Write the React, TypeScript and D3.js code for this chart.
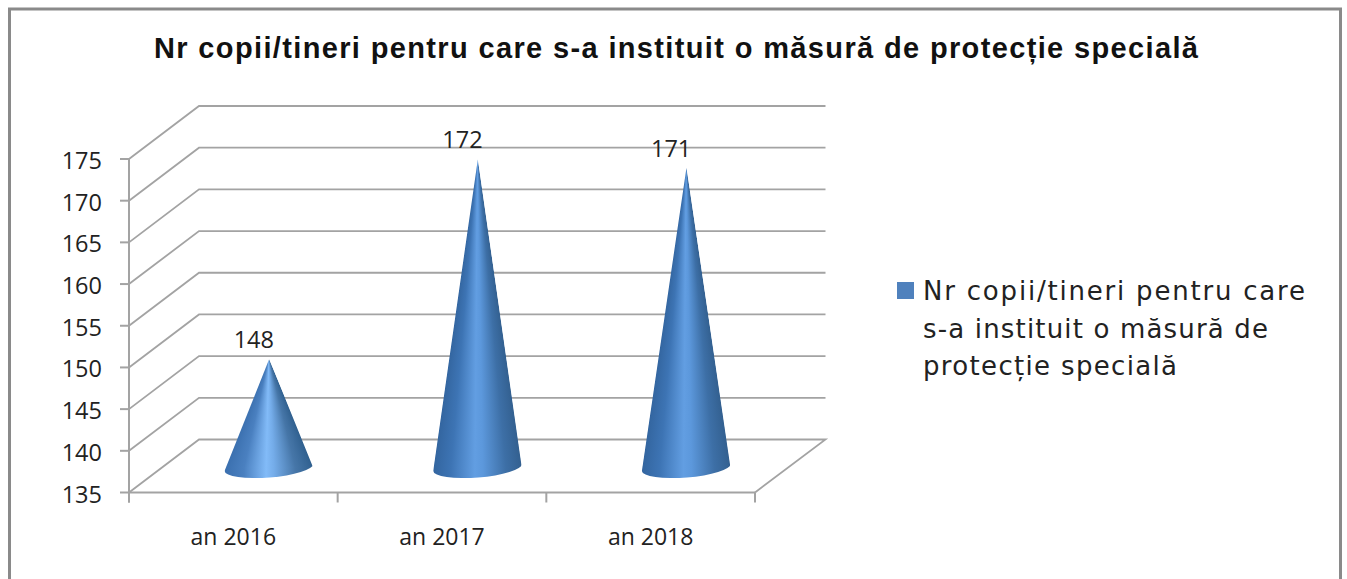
import React from "react";
import * as d3 from "d3";

const categories = ["an 2016", "an 2017", "an 2018"];
const seriesValues = [148, 172, 171];
const yTicks = [135, 140, 145, 150, 155, 160, 165, 170, 175];
const titleText = "Nr copii/tineri pentru care s-a instituit o măsură de protecție specială";
const legendLines = ["Nr copii/tineri pentru care", "s-a instituit o măsură de", "protecție specială"];
const legendWidths = [382, 345, 254];

const W = 1347, H = 579;
const LEFT = 129, RIGHT = 755, FRONT_BOTTOM = 492.5, FRONT_TOP = 159;
const DX = 70, DY = -53;
const GRID = "#a3a3a3";
const INK = "#222";

const yFront = d3.scaleLinear().domain([135, 175]).range([FRONT_BOTTOM, FRONT_TOP]);
const yCone = d3.scaleLinear().domain([135, 175]).range([467.5, 134.5]);
const xBand = d3.scaleBand<string>().domain(categories).range([LEFT, RIGHT]);
const CONE_RX = 44.3, CONE_RY = 10, CONE_TILT_DEG = -4.5;

const brightStops = [
  [0, "#3a6fae"], [0.22, "#4a80c0"], [0.47, "#82bbf8"], [0.56, "#74ace9"], [0.8, "#4676a8"], [1, "#30608f"],
];
const normalStops = [
  [0, "#33659f"], [0.2, "#3d74b4"], [0.47, "#629ee2"], [0.56, "#5c98dc"], [0.82, "#3d6fa6"], [1, "#336090"],
];

export default function App() {
  const gridPath = (v: number) => {
    const p = d3.path();
    const y = yFront(v);
    p.moveTo(LEFT, y);
    p.lineTo(LEFT + DX, y + DY);
    p.lineTo(825.5, y + DY);
    if (v === 135) p.lineTo(RIGHT, y);
    return p.toString();
  };
  const tickXs = [...categories.map((c) => xBand(c)!), RIGHT];
  return (
    <svg width={W} height={H} style={{ position: "absolute", left: 0, top: 0, background: "#fff" }}>
      <defs>
        {[brightStops, normalStops].map((stops, k) => (
          <linearGradient key={k} id={`shade${k}`} x1="0" x2="1" y1="0" y2="0">
            {stops.map(([o, col]) => (
              <stop key={o as number} offset={o as number} stopColor={col as string} />
            ))}
          </linearGradient>
        ))}
      </defs>
      <path d="M9.5 579 V9 H1340.5 V579" fill="none" stroke="#8a8a8a" strokeWidth={3} />
      <text x={676} y={58} textAnchor="middle" fontFamily="Liberation Sans" fontWeight="bold" fontSize={29} fill="#111" textLength={1044}>
        {titleText}
      </text>

      {yTicks.map((v) => (
        <g key={v}>
          <path d={gridPath(v)} fill="none" stroke={GRID} strokeWidth={1.8} />
          <line x1={120} x2={LEFT} y1={yFront(v)} y2={yFront(v)} stroke={GRID} strokeWidth={2} />
          <text x={102} y={yFront(v) + 10} textAnchor="end" fontFamily="Open Sans" fontSize={23.5} fill={INK}>{v}</text>
        </g>
      ))}
      <line x1={LEFT} x2={LEFT} y1={FRONT_TOP} y2={FRONT_BOTTOM + 10} stroke={GRID} strokeWidth={2} />
      <line x1={LEFT} x2={RIGHT} y1={FRONT_BOTTOM} y2={FRONT_BOTTOM} stroke={GRID} strokeWidth={2} />
      {tickXs.map((x) => (
        <line key={x} x1={x} x2={x} y1={FRONT_BOTTOM} y2={FRONT_BOTTOM + 10} stroke={GRID} strokeWidth={2} />
      ))}

      {categories.map((c, i) => {
        const mid = xBand(c)! + xBand.bandwidth() / 2;
        const cx = mid + 35.5;
        const baseY = yCone(135);
        const tipY = yCone(seriesValues[i]);
        const widthAt = d3.scaleLinear().domain([tipY, baseY]).range([0.5, CONE_RX]).clamp(true);
        const rows = d3.range(Math.floor(tipY), Math.ceil(baseY + CONE_RY + 2));
        const outline = `M${cx + 0.3} ${tipY} L${cx + CONE_RX} ${baseY - 3.5} A${CONE_RX} ${CONE_RY} ${CONE_TILT_DEG} 0 1 ${cx - CONE_RX} ${baseY + 3.5} Z`;
        return (
          <g key={c}>
            <clipPath id={`coneClip${i}`}>
              <path d={outline} />
            </clipPath>
            <g clipPath={`url(#coneClip${i})`}>
              {rows.map((y) => {
                const w = widthAt(y + 0.5);
                return (
                  <rect key={y} x={cx - w} y={y} width={2 * w} height={1} fill={`url(#shade${i === 0 ? 0 : 1})`} stroke="none" />
                );
              })}
            </g>
            <text x={cx - 15} y={tipY - 11} textAnchor="middle" fontFamily="Open Sans" fontSize={23.5} fill={INK}>{seriesValues[i]}</text>
            <text x={mid} y={545} textAnchor="middle" fontFamily="Open Sans" fontSize={23} fill={INK}>{c}</text>
          </g>
        );
      })}

      <rect x={897} y={282} width={17} height={17} fill="#4f81bd" />
      {legendLines.map((l, i) => (
        <text key={l} x={923} y={300 + i * 37.5} fontFamily="DejaVu Sans" fontSize={26} fill={INK} textLength={legendWidths[i]}>{l}</text>
      ))}
    </svg>
  );
}
